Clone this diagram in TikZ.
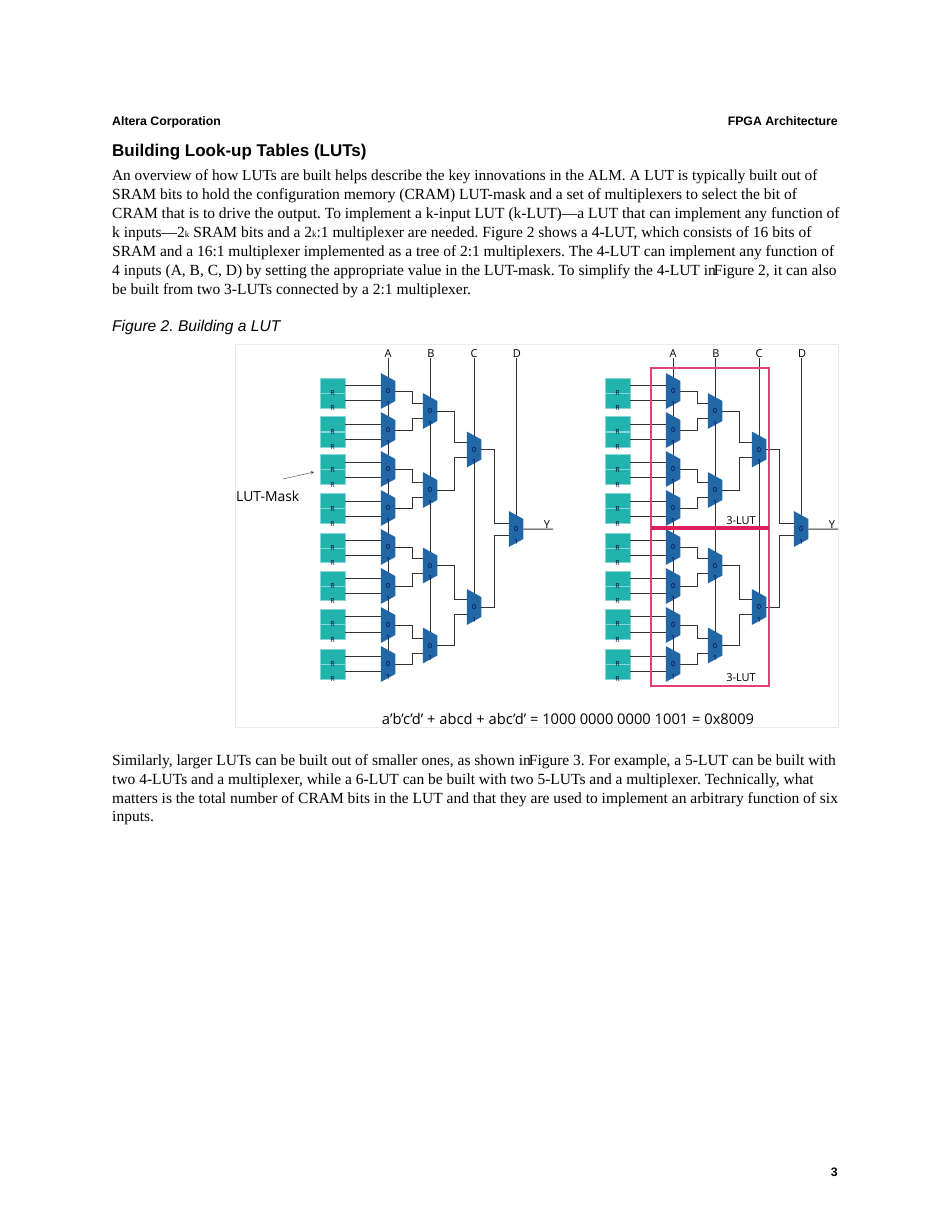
\documentclass[tikz,border=0pt]{standalone}
\usepackage{fontspec}
\setmainfont{Liberation Serif}
\newfontfamily\headfont{Liberation Sans}
\newfontfamily\figfont{Open Sans}
\usetikzlibrary{shapes.geometric,backgrounds,calc}
\definecolor{ramteal}{HTML}{21B4AC}
\definecolor{muxblue}{HTML}{2166A5}
\definecolor{lutred}{HTML}{DC1E5A}
\definecolor{wiregray}{HTML}{333333}
\frenchspacing
\tikzset{
    bodyline/.style={anchor=base west, inner sep=0pt, font=\fontsize{15.5}{15.5}\selectfont},
    headline/.style={inner sep=0pt, font=\headfont\bfseries\fontsize{12.3}{12.3}\selectfont},
    figlabel/.style={inner sep=0pt, font=\figfont\fontsize{11}{11}\selectfont},
    minitext/.style={inner sep=0pt, text=black!75!blue, font=\figfont\fontsize{7}{7}\selectfont},
    ramcell/.style={draw=ramteal!55, line width=0.4pt, fill=ramteal, minimum width=25pt, minimum height=15pt, inner sep=0pt,
        label={[minitext,anchor=center,label distance=0pt]south:R}},
    muxcell/.style={trapezium, shape border rotate=270, trapezium angle=63, trapezium stretches=true,
        fill=muxblue, minimum width=36pt, minimum height=14.5pt, inner sep=0pt,
        font=\figfont\fontsize{7}{7}\selectfont, text=black!75!blue,
        label={[minitext,anchor=center,yshift=1.5pt]south:1}},
    wire/.style={draw=wiregray, line width=1pt},
}
\begin{document}
\begin{tikzpicture}[x=1pt, y=-1pt, >=stealth]
    \useasboundingbox (0, 0) rectangle (950, 1230);

    % page header
    \node[headline, anchor=base west] (corp) at (112, 125.5) {Altera Corporation};
    \node[headline, anchor=base east] (arch) at (838, 125.5) {FPGA Architecture};
    \node[bodyline, font=\headfont\bfseries\fontsize{17}{17}\selectfont] (title) at (112, 157) {Building Look-up Tables (LUTs)};

    % first paragraph
    \node[bodyline, font=\fontsize{15.3}{15.3}\selectfont] (p1) at (112, 181) {An overview of how LUTs are built helps describe the key innovations in the ALM. A LUT is typically built out of};
    \node[bodyline] (p2) at (112, 200) {SRAM bits to hold the configuration memory (CRAM) LUT-mask and a set of multiplexers to select the bit of};
    \node[bodyline] (p3) at (112, 219) {CRAM that is to drive the output. To implement a k-input LUT (k-LUT)---a LUT that can implement any function of};
    \node[bodyline] (p4) at (112, 238) {k inputs---2{\fontsize{9}{9}\selectfont k} SRAM bits and a 2{\fontsize{9}{9}\selectfont k}:1 multiplexer are needed. Figure 2 shows a 4-LUT, which consists of 16 bits of};
    \node[bodyline] (p5) at (112, 257) {SRAM and a 16:1 multiplexer implemented as a tree of 2:1 multiplexers. The 4-LUT can implement any function of};
    \node[bodyline] (p6) at (112, 276) {4 inputs (A, B, C, D) by setting the appropriate value in the LUT-mask. To simplify the 4-LUT in\hspace{-2pt}Figure 2, it can also};
    \node[bodyline] (p7) at (112, 294.5) {be built from two 3-LUTs connected by a 2:1 multiplexer.};
    \node[bodyline, font=\headfont\itshape\fontsize{15.6}{15.6}\selectfont] (figcap) at (112, 331.5) {Figure 2. Building a LUT};

    % figure panel
    \draw[black!8, line width=0.8pt] (235, 344) rectangle (838, 727);

    \foreach \sd/\off in {l/0, r/285} {
        \begin{scope}[xshift=\off pt]
            % RAM bits, lower cell first so that the upper R stays on top
            \foreach \n/\ya/\yb in {1/385.5/400.5, 2/424/439.5, 3/462/477, 4/501/516, 5/540.5/555, 6/578.5/593, 7/616.5/632, 8/656.5/671.5} {
                \node[ramcell] (\sd rb\n) at (332.5, \yb) {};
                \node[ramcell] (\sd ra\n) at (332.5, \ya) {};
            }
            % multiplexers
            \foreach \n/\y in {1/391, 2/430, 3/469, 4/508, 5/547, 6/586, 7/625, 8/664}
                \node[muxcell] (\sd ma\n) at (388, \y) {0};
            \foreach \n/\y in {1/411, 2/490, 3/565.5, 4/645.5}
                \node[muxcell] (\sd mb\n) at (430, \y) {0};
            \foreach \n/\y in {1/449.5, 2/607}
                \node[muxcell] (\sd mc\n) at (474, \y) {0};
            \node[muxcell] (\sd md1) at (516, 529) {0};
            % select inputs
            \node[figlabel] (\sd sa) at (388, 354) {A};
            \node[figlabel] (\sd sb) at (431, 354) {B};
            \node[figlabel] (\sd sc) at (474, 354) {C};
            \node[figlabel] (\sd sd) at (517, 354) {D};
            \node[figlabel] (\sd y) at (547, 525) {Y};
            \coordinate (\sd yend) at (553, 529);
            \begin{pgfonlayer}{background}
                \draw[wire] (\sd ma8.center |- \sd sa.south) -- (\sd ma8.center);
                \draw[wire] (\sd mb4.center |- \sd sb.south) -- (\sd mb4.center);
                \draw[wire] (\sd mc2.center |- \sd sc.south) -- (\sd mc2.center);
                \draw[wire] (\sd md1.center |- \sd sd.south) -- (\sd md1.center);
            \end{pgfonlayer}
            % wires from the RAM bits
            \foreach \n in {1,...,8} {
                \draw[wire] (\sd ra\n.east) -- (\sd ra\n.east -| \sd ma\n.west);
                \draw[wire] (\sd rb\n.east) -- (\sd rb\n.east -| \sd ma\n.west);
            }
            % tree of 2:1 multiplexers
            \foreach \src/\dst/\dy/\len in {ma1/mb1/7.5/17, ma2/mb1/-7.5/17, ma3/mb2/7.5/17, ma4/mb2/-7.5/17,
                    ma5/mb3/7.5/17, ma6/mb3/-7.5/17, ma7/mb4/7.5/17, ma8/mb4/-7.5/17,
                    mb1/mc1/7.5/17, mb2/mc1/-7.5/17, mb3/mc2/7.5/17, mb4/mc2/-7.5/17,
                    mc1/md1/6/13, mc2/md1/-6/13}
                \draw[wire] (\sd\src.east) -- ++(\len, 0) |- ([yshift=\dy pt]\sd\dst.west);
            \draw[wire] (\sd md1.east) -- (\sd yend);
        \end{scope}
    }

    % LUT-mask label
    \node[figlabel, font=\figfont\fontsize{13.9}{13.9}\selectfont, anchor=west] (mask) at (236, 496) {LUT-Mask};
    \coordinate (masktip) at (314, 472);
    \draw[->, black!80, line width=0.4pt] (283, 479) -- (masktip);

    % the two 3-LUTs
    \coordinate (lutnw) at (651, 368);
    \coordinate (lutse) at (769, 686);
    \draw[lutred!85, line width=1.3pt] (lutnw) rectangle (lutse);
    \draw[lutred, line width=3.5pt] (lutnw |- 0, 528) -- (lutse |- 0, 528);
    \node[figlabel] (lutup) at (741, 521) {3-LUT};
    \node[figlabel] (lutlo) at (741, 678) {3-LUT};

    % truth function
    \node[figlabel, font=\figfont\fontsize{14.7}{14.7}\selectfont] (func) at (568, 719) {a’b’c’d’ + abcd + abc’d’ = 1000 0000 0000 1001 = 0x8009};

    % second paragraph
    \node[bodyline] (q1) at (112, 765) {Similarly, larger LUTs can be built out of smaller ones, as shown in\hspace{-2pt}Figure 3. For example, a 5-LUT can be built with};
    \node[bodyline] (q2) at (112, 784) {two 4-LUTs and a multiplexer, while a 6-LUT can be built with two 5-LUTs and a multiplexer. Technically, what};
    \node[bodyline] (q3) at (112, 803) {matters is the total number of CRAM bits in the LUT and that they are used to implement an arbitrary function of six};
    \node[bodyline] (q4) at (112, 821) {inputs.};

    % page number
    \node[headline, anchor=base east] (pageno) at (838, 1176) {3};
\end{tikzpicture}
\end{document}
